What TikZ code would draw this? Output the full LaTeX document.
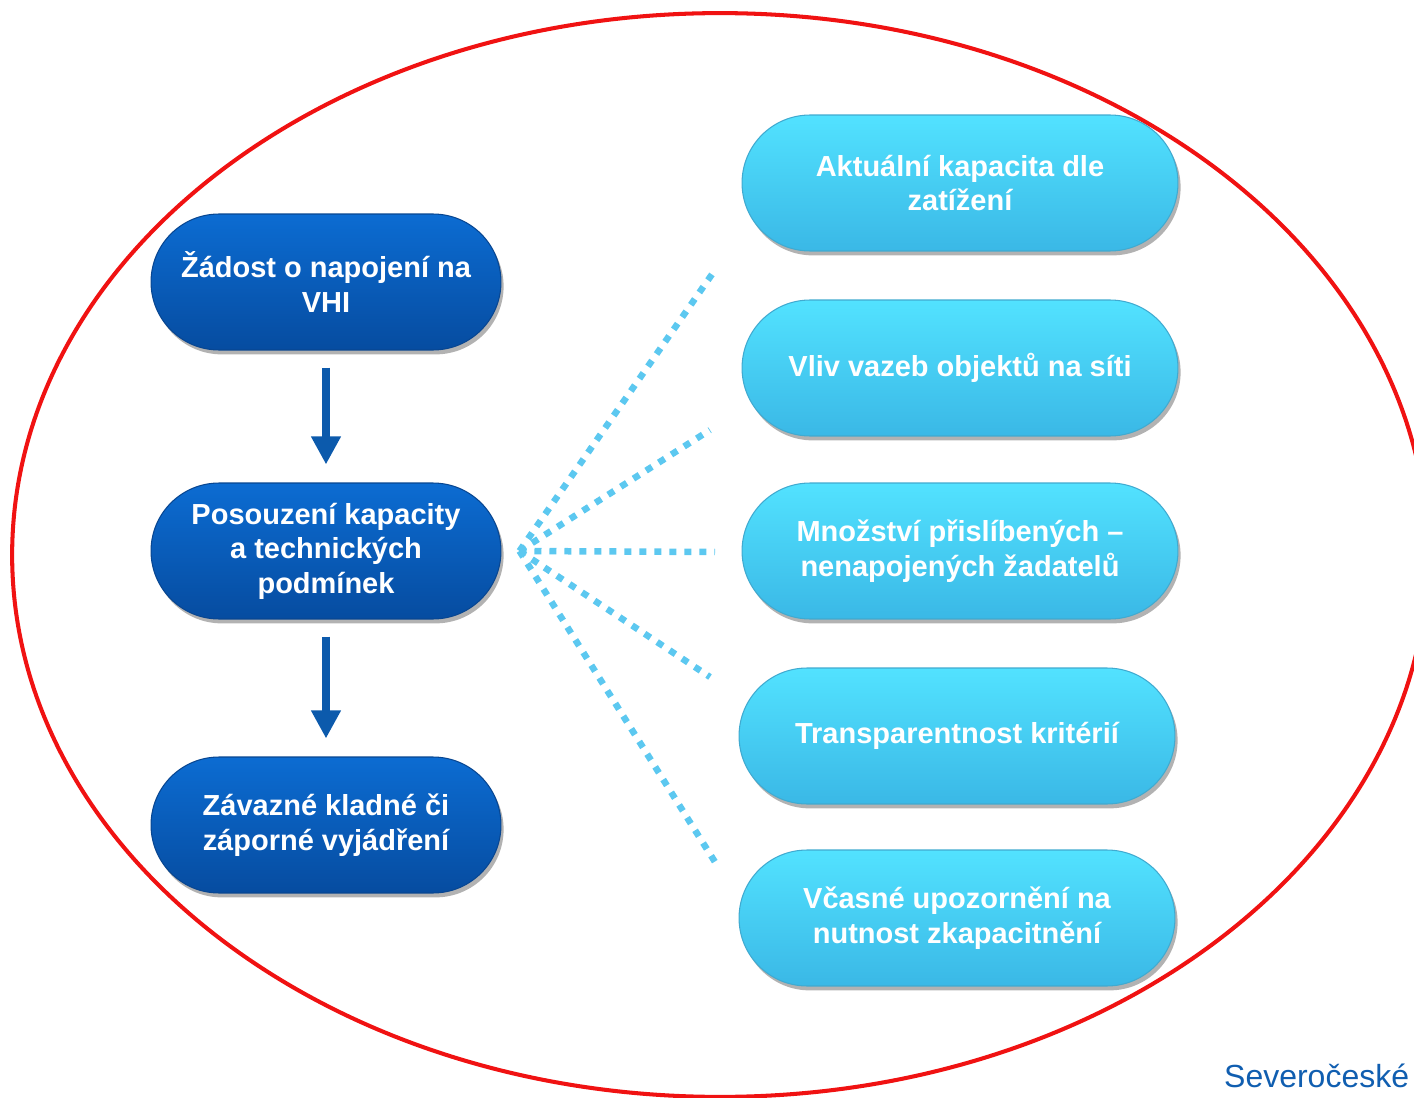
\documentclass[tikz,border=0pt]{standalone}
\usepackage{fontspec}
\setmainfont{Liberation Sans}
\usetikzlibrary{arrows.meta,positioning,shapes.misc,shadows}
\definecolor{pilldarktop}{RGB}{12,108,210}
\definecolor{pilldarkbot}{RGB}{6,76,160}
\definecolor{pilldarkline}{RGB}{8,70,145}
\definecolor{pilllighttop}{RGB}{82,226,255}
\definecolor{pilllightbot}{RGB}{58,184,230}
\definecolor{pilllightline}{RGB}{64,170,208}
\definecolor{rayblue}{RGB}{92,200,240}
\definecolor{arrowblue}{RGB}{12,90,172}
\definecolor{ringred}{RGB}{240,18,18}
\definecolor{logoblue}{RGB}{16,94,176}
\tikzset{
  pill/.style     ={rounded rectangle, minimum height=2.72cm, inner sep=0pt,
                    align=center, text=white, line width=0.6pt,
                    font=\fontsize{16.5}{19.6}\selectfont\bfseries,
                    drop shadow={shadow xshift=1.5pt, shadow yshift=-2.5pt,
                                 fill=black, opacity=0.3}},
  darkpill/.style ={pill, minimum width=7cm, draw=pilldarkline,
                    top color=pilldarktop, bottom color=pilldarkbot},
  lightpill/.style={pill, minimum width=8.72cm, draw=pilllightline,
                    top color=pilllighttop, bottom color=pilllightbot},
  flowarr/.style  ={-{Triangle[width=0.56cm, length=0.56cm]}, line width=0.16cm,
                    arrowblue, shorten <=0.34cm, shorten >=0.36cm},
  dotray/.style   ={line width=0.13cm, rayblue, dash pattern=on 0.14cm off 0.16cm},
  ring/.style     ={draw=ringred, line width=2.3pt},
}
\begin{document}
\begin{tikzpicture}[x=0.02cm, y=-0.02cm]
  \useasboundingbox (0,0) rectangle (1414,1098);

  % ---- red ring round everything ------------------------------------------
  \draw[ring] (720,555) ellipse [x radius=14.16cm, y radius=10.84cm];

  % ---- left: the three steps ----------------------------------------------
  \node[darkpill] (p1) at (326,282) {Žádost o napojení na\\VHI};
  \node[darkpill] (p2) at (326,551) {Posouzení kapacity\\a technických\\podmínek};
  \node[darkpill] (p3) at (326,825) {Závazné kladné či\\záporné vyjádření};
  \draw[flowarr] (p1.south) -- (p2.north);
  \draw[flowarr] (p2.south) -- (p3.north);

  % ---- dotted fan out of the middle step ----------------------------------
  \coordinate (hub) at ([xshift=0.36cm]p2.east);
  \foreach \i/\x/\y in {1/715/270, 2/710/430, 3/715/552, 4/710/677, 5/715/862} {
    \coordinate (e\i) at (\x,\y);
    \draw[dotray] (hub) -- (e\i);
  }

  % ---- right: what is looked at -------------------------------------------
  \foreach \i/\x/\y/\t in {1/960/183/{Aktuální kapacita dle\\zatížení},
                           2/960/368/{Vliv vazeb objektů na síti},
                           3/960/551/{Množství přislíbených –\\nenapojených žadatelů},
                           4/957/736/{Transparentnost kritérií},
                           5/957/918/{Včasné upozornění na\\nutnost zkapacitnění}} {
    \node[lightpill] (q\i) at (\x,\y) {\t};
  }

  \node[anchor=base west, text=logoblue, font=\fontsize{18.2}{22}\selectfont]
    (logo) at (1218,1087) {Severočeské};
\end{tikzpicture}
\end{document}
